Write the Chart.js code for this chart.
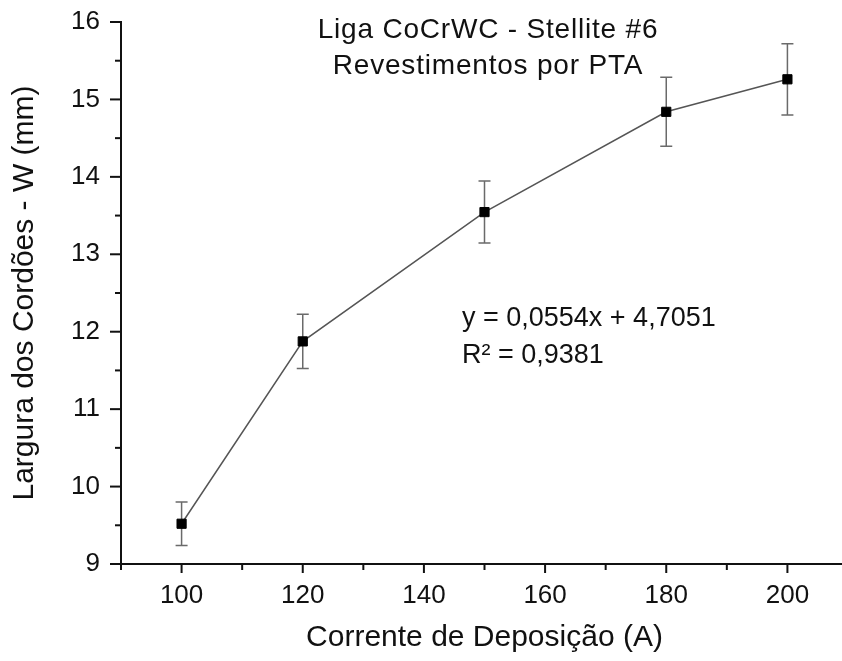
<!DOCTYPE html>
<html>
<head>
<meta charset="utf-8">
<script src="https://cdn.jsdelivr.net/npm/chart.js@4.4.0/dist/chart.umd.min.js"></script>
<style>
  html, body { margin: 0; padding: 0; background: #fff; overflow: hidden; }
  #wrap { width: 850px; height: 661px; }
</style>
</head>
<body>
<div id="wrap"><canvas id="chart" width="850" height="661"></canvas></div>
<script>
// dados
const correntes = [100, 120, 150, 180, 200];
const larguras = [9.52, 11.875, 13.545, 14.84, 15.26];
const erros = [0.28, 0.35, 0.40, 0.445, 0.46];

const titulo = ['Liga CoCrWC - Stellite #6', 'Revestimentos por PTA'];
const equacao = ['y = 0,0554x + 4,7051', 'R\u00b2 = 0,9381'];

const FONTE = '"Liberation Sans", Arial, sans-serif';

// barras de erro (desenhadas antes dos pontos)
const errorBars = {
    id: 'errorBars',
    beforeDatasetsDraw(chart) {
        const ctx = chart.ctx;
        const xs = chart.scales.x, ys = chart.scales.y;
        ctx.save();
        ctx.strokeStyle = '#6a6a6a';
        ctx.lineWidth = 1.5;
        correntes.forEach((c, i) => {
            const x = xs.getPixelForValue(c);
            const yt = ys.getPixelForValue(larguras[i] + erros[i]);
            const yb = ys.getPixelForValue(larguras[i] - erros[i]);
            ctx.beginPath();
            ctx.moveTo(x, yt); ctx.lineTo(x, yb);
            ctx.moveTo(x - 6, yt); ctx.lineTo(x + 6, yt);
            ctx.moveTo(x - 6, yb); ctx.lineTo(x + 6, yb);
            ctx.stroke();
        });
        ctx.restore();
    }
};

// marcas dos eixos: maiores com rótulo, menores sem
const axisTicks = {
    id: 'axisTicks',
    afterDraw(chart) {
        const ctx = chart.ctx;
        const xs = chart.scales.x, ys = chart.scales.y;
        ctx.save();
        ctx.strokeStyle = '#111';
        ctx.lineWidth = 2;
        ys.ticks.forEach(t => {
            const y = ys.getPixelForValue(t.value);
            const len = t.label !== '' ? 11 : 6;
            ctx.beginPath();
            ctx.moveTo(ys.right, y); ctx.lineTo(ys.right - len, y);
            ctx.stroke();
        });
        xs.ticks.forEach(t => {
            const x = xs.getPixelForValue(t.value);
            const len = t.label !== '' ? 9 : 6;
            ctx.beginPath();
            ctx.moveTo(x, xs.top); ctx.lineTo(x, xs.top + len);
            ctx.stroke();
        });
        ctx.restore();
    }
};

// textos dentro da área do gráfico
const textos = {
    id: 'textos',
    afterDraw(chart) {
        const ctx = chart.ctx;
        ctx.save();
        ctx.fillStyle = '#111';
        ctx.textBaseline = 'alphabetic';
        ctx.textAlign = 'center';
        ctx.font = '28px ' + FONTE;
        if ('letterSpacing' in ctx) ctx.letterSpacing = '0.8px';
        ctx.fillText(titulo[0], 488, 38);
        ctx.fillText(titulo[1], 488, 74);
        if ('letterSpacing' in ctx) ctx.letterSpacing = '0px';
        ctx.textAlign = 'left';
        ctx.font = '27px ' + FONTE;
        ctx.fillText(equacao[0], 462, 326);
        ctx.fillText(equacao[1], 462, 363);
        ctx.restore();
    }
};

// tira o recuo automático dos rótulos para fixar a área do gráfico
function semRecuo(s) {
    s.paddingTop = 0; s.paddingBottom = 0;
    s.paddingLeft = 0; s.paddingRight = 0;
}

new Chart(document.getElementById('chart'), {
    type: 'scatter',
    data: {
        datasets: [{
            data: correntes.map((c, i) => ({ x: c, y: larguras[i] })),
            showLine: true,
            borderColor: '#555',
            borderWidth: 1.5,
            pointStyle: 'rect',
            pointRadius: 6.5,
            pointBorderWidth: 1,
            pointBackgroundColor: '#000',
            pointBorderColor: '#000'
        }]
    },
    options: {
        responsive: false,
        animation: false,
        layout: { autoPadding: false, padding: { top: 22, right: 2, left: 0, bottom: 0 } },
        plugins: { legend: { display: false }, tooltip: { enabled: false } },
        scales: {
            x: {
                min: 90, max: 210,
                afterFit(s) { s.height = 97; semRecuo(s); },
                grid: { display: false, drawTicks: false },
                border: { display: true, color: '#111', width: 2 },
                ticks: {
                    stepSize: 10,
                    padding: 16,
                    color: '#111',
                    font: { family: FONTE, size: 26 },
                    maxRotation: 0,
                    autoSkip: false,
                    callback: v => (v % 20 === 0 && v >= 100 && v <= 200) ? v : ''
                },
                title: {
                    display: true,
                    text: 'Corrente de Deposição (A)',
                    color: '#111',
                    font: { family: FONTE, size: 30 },
                    padding: { top: 0, bottom: 5 }
                }
            },
            y: {
                min: 9, max: 16,
                afterFit(s) { s.width = 121; semRecuo(s); },
                grid: { display: false, drawTicks: false },
                border: { display: true, color: '#111', width: 2 },
                ticks: {
                    stepSize: 0.5,
                    padding: 21,
                    color: '#111',
                    font: { family: FONTE, size: 26 },
                    autoSkip: false,
                    callback: v => Number.isInteger(v) ? v : ''
                },
                title: {
                    display: true,
                    text: 'Largura dos Cordões - W (mm)',
                    color: '#111',
                    font: { family: FONTE, size: 30 },
                    padding: { top: 7, bottom: 0 }
                }
            }
        }
    },
    plugins: [errorBars, axisTicks, textos]
});
</script>
</body>
</html>
